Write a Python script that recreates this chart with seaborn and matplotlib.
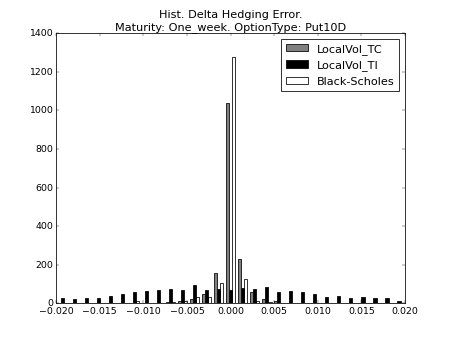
import numpy as np
import pandas as pd
import matplotlib
matplotlib.use("Agg")
import matplotlib.pyplot as plt
import seaborn as sns
from matplotlib.patches import Patch

# === Histogram counts (29 bins over [-0.02, 0.02]) ===
n_bins = 29
bin_range = (-0.02, 0.02)
bin_edges = np.linspace(bin_range[0], bin_range[1], n_bins + 1)
bin_centers = (bin_edges[:-1] + bin_edges[1:]) / 2

labels = ["LocalVol_TC", "LocalVol_TI", "Black-Scholes"]
counts_tc = [0, 0, 0, 0, 0, 0, 1, 2, 3, 5, 10, 24, 47, 159, 1040,
             231, 59, 24, 12, 3, 2, 1, 0, 0, 0, 0, 0, 0, 0]
counts_ti = [29, 21, 29, 29, 40, 47, 57, 62, 71, 76, 69, 96, 67, 76, 69,
             78, 73, 86, 60, 62, 60, 50, 35, 36, 26, 32, 26, 26, 14]
counts_bs = [0, 0, 0, 0, 0, 3, 13, 2, 3, 5, 14, 35, 31, 104, 1275,
             124, 12, 5, 2, 1, 0, 0, 0, 0, 0, 0, 0, 0, 0]
colors = {"LocalVol_TC": "0.5", "LocalVol_TI": "black", "Black-Scholes": "white"}

title = "Hist. Delta Hedging Error.\nMaturity: One_week. OptionType: Put10D"

# long table for seaborn
df = pd.concat([
    pd.DataFrame({"error": bin_centers, "count": c, "model": lab})
    for lab, c in zip(labels, [counts_tc, counts_ti, counts_bs])
], ignore_index=True)

plt.style.use("classic")
fig, ax = plt.subplots(figsize=(8, 6))

sns.histplot(data=df, x="error", weights="count", hue="model",
             hue_order=labels, palette=colors, bins=n_bins,
             binrange=bin_range, multiple="dodge", shrink=0.8,
             edgecolor="black", linewidth=1, alpha=1, legend=False, ax=ax)

ax.set_xlim(-0.02, 0.02)
ax.set_ylim(0, 1400)
ax.set_xlabel("")
ax.set_ylabel("")
ax.set_title(title)

handles = [Patch(facecolor=colors[l], edgecolor="black", label=l) for l in labels]
ax.legend(handles=handles, loc="upper right")

fig.savefig("out.png", dpi=56.25)
